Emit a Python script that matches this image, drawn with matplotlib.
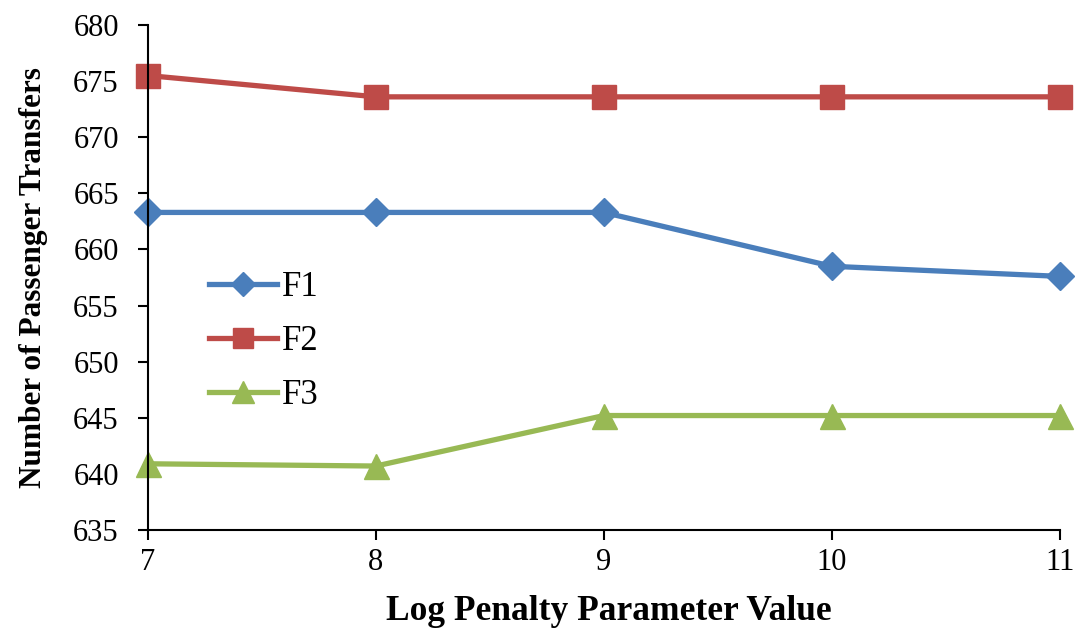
import matplotlib.pyplot as plt

# log penalty parameter values
x = [7, 8, 9, 10, 11]
f1 = [663.3, 663.3, 663.3, 658.5, 657.6]
f2 = [675.5, 673.6, 673.6, 673.6, 673.6]
f3 = [640.9, 640.7, 645.2, 645.2, 645.2]

plt.rcParams['font.family'] = ['Liberation Serif', 'DejaVu Serif']

fig = plt.figure(figsize=(10.76, 6.32), dpi=100)
ax = fig.add_axes([0.1375, 0.1614, 0.8475, 0.799])

ax.plot(x, f1, color='#4a7ebb', lw=3.8, marker='D', ms=14, label='F1', clip_on=False)
ax.plot(x, f2, color='#be4b48', lw=3.8, marker='s', ms=17, label='F2', clip_on=False)
ax.plot(x, f3, color='#98b954', lw=3.8, marker='^', ms=18, label='F3', clip_on=False)

ax.set_xlim(7, 11)
ax.set_ylim(635, 680)
ax.set_xticks(x)
ax.set_yticks(range(635, 681, 5))
ax.spines['top'].set_visible(False)
ax.spines['right'].set_visible(False)
ax.spines['left'].set_linewidth(1.5)
ax.spines['bottom'].set_linewidth(1.5)
ax.tick_params(direction='out', length=7, width=1.5, labelsize=22)
ax.tick_params(axis='y', pad=14)
ax.tick_params(axis='x', pad=6)

ax.set_xlabel('Log Penalty Parameter Value', fontsize=25.5, fontweight='bold')
ax.set_ylabel('Number of Passenger Transfers', fontsize=22.5, fontweight='bold')
ax.xaxis.set_label_coords(0.505, -0.128)
ax.yaxis.set_label_coords(-0.11, 0.5)

ax.legend(loc='upper left', bbox_to_anchor=(0.175, 0.604), bbox_transform=fig.transFigure,
          frameon=False, fontsize=25, handlelength=1.95, labelspacing=0.6,
          handletextpad=0.15, markerscale=0.85, borderpad=0.1)

fig.savefig('out.png', dpi=100)
